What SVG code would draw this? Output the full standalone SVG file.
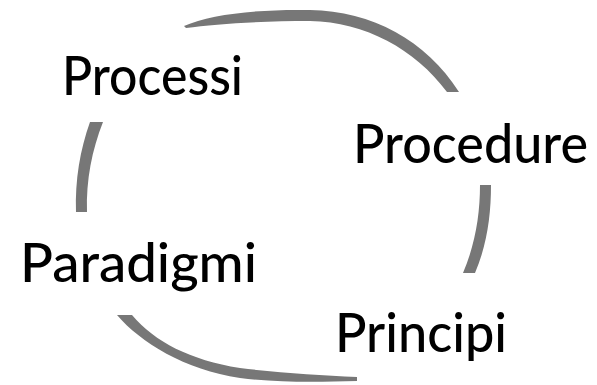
<svg xmlns="http://www.w3.org/2000/svg" width="597" height="385" viewBox="0 0 597 385">
<style>
.arc{fill:#777777;stroke:none}
.lbl{font-family:Lato,"Noto Sans","Liberation Sans",sans-serif;font-size:54px;fill:#000000;font-weight:500}
</style>
<rect width="597" height="385" fill="#ffffff"/>
<g id="connectors">
<path class="arc" d="M184,26 C210,14 260,9 310,10 C372,11 426,40 459,92 L447,92 C415,49 365,22 310,21 C262,21 215,24 186,28 Z"/>
<path class="arc" d="M480,185 L491,185 C491,215 487,245 475,273 L463,273 C475,245 480,215 480,185 Z"/>
<path class="arc" d="M117,315 C140,342 185,370 240,378 C280,383 320,382 357,381 L357,377 C320,375 280,373 240,368 C190,360 155,342 132,315 Z"/>
<path class="arc" d="M90,122 L103,122 C92,150 86,180 87,212 L76,212 C75,180 80,150 90,122 Z"/>
</g>
<g id="processi"><text class="lbl" x="62" y="95" textLength="181" lengthAdjust="spacingAndGlyphs">Processi</text></g>
<g id="procedure"><text class="lbl" x="353" y="163" textLength="235" lengthAdjust="spacingAndGlyphs">Procedure</text></g>
<g id="principi"><text class="lbl" x="335" y="352" textLength="172" lengthAdjust="spacingAndGlyphs">Principi</text></g>
<g id="paradigmi"><text class="lbl" x="20" y="282" textLength="237" lengthAdjust="spacingAndGlyphs">Paradigmi</text></g>
</svg>
